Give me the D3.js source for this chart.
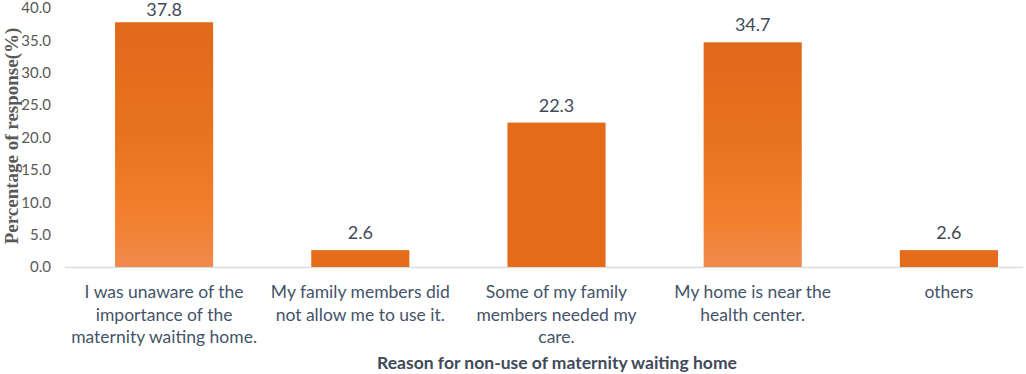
<!DOCTYPE html>
<html>
<head>
<meta charset="utf-8">
<script src="https://cdn.jsdelivr.net/npm/d3@7"></script>
<style>
  body { margin: 0; background: #fff; }
  svg { display: block; }
</style>
</head>
<body>
<main></main>
<script>
// data
const categories = [
  ["I was unaware of the", "importance of the", "maternity waiting home."],
  ["My family members did", "not allow me to use it."],
  ["Some of my family", "members needed my", "care."],
  ["My home is near the", "health center."],
  ["others"]
];
const values = [37.8, 2.6, 22.3, 34.7, 2.6];
const yTicks = [0, 5, 10, 15, 20, 25, 30, 35, 40];

const width = 1026;
const height = 374;

const svg = d3.select("main")
  .append("svg")
  .attr("width", width)
  .attr("height", height);

const defs = svg.append("defs");
const grad = defs.append("linearGradient")
  .attr("id", "barGrad")
  .attr("x1", 0).attr("y1", 0)
  .attr("x2", 0).attr("y2", 1);
grad.append("stop").attr("offset", "0%").attr("stop-color", "#e0691a");
grad.append("stop").attr("offset", "45%").attr("stop-color", "#e8731f");
grad.append("stop").attr("offset", "80%").attr("stop-color", "#f2802e");
grad.append("stop").attr("offset", "100%").attr("stop-color", "#f08a4e");

const xScale = d3.scaleBand()
  .domain(d3.range(values.length))
  .range([66, 1047])
  .paddingInner(0.5)
  .paddingOuter(0.25);

const yScale = d3.scaleLinear()
  .domain([0, 40])
  .range([267, 8]);

// baseline
svg.append("line")
  .attr("x1", 65).attr("x2", 1023)
  .attr("y1", yScale(0) + 0.5).attr("y2", yScale(0) + 0.5)
  .attr("stroke", "#d9dde3")
  .attr("stroke-width", 1.5);

// y tick labels
const yAxis = d3.axisLeft(yScale)
  .tickValues(yTicks)
  .tickFormat(d3.format(".1f"))
  .tickSize(0)
  .tickPadding(0);

svg.append("g")
  .attr("id", "y-axis")
  .attr("transform", "translate(51,0)")
  .call(yAxis)
  .call(g => g.select(".domain").remove())
  .selectAll("text")
  .attr("fill", "#595959")
  .style("font-family", "Lato, 'Open Sans', sans-serif")
  .style("font-size", "15px");

// bars
svg.selectAll("rect.bar")
  .data(values)
  .enter()
  .append("rect")
  .attr("class", "bar")
  .attr("x", (d, i) => xScale(i))
  .attr("y", d => yScale(d))
  .attr("width", xScale.bandwidth())
  .attr("height", d => yScale(0) - yScale(d))
  .attr("fill", d => d > 30 ? "url(#barGrad)" : "#e36b19");

// value labels
svg.selectAll("text.val")
  .data(values)
  .enter()
  .append("text")
  .attr("class", "val")
  .attr("x", (d, i) => xScale(i) + xScale.bandwidth() / 2)
  .attr("y", d => Math.max(yScale(d) - 11, 16))
  .attr("text-anchor", "middle")
  .attr("fill", "#3f4a5a")
  .style("font-family", "Lato, 'Open Sans', sans-serif")
  .style("font-size", "18px")
  .text(d => d.toFixed(1));

// category labels
const cat = svg.selectAll("text.cat")
  .data(categories)
  .enter()
  .append("text")
  .attr("class", "cat")
  .attr("text-anchor", "middle")
  .attr("fill", "#44546a")
  .style("font-family", "Lato, 'Open Sans', sans-serif")
  .style("font-size", "17.5px");

cat.selectAll("tspan")
  .data((d, i) => d.map(line => ({ line, i })))
  .enter()
  .append("tspan")
  .attr("x", d => xScale(d.i) + xScale.bandwidth() / 2)
  .attr("y", (d, j) => 298 + j * 22.5)
  .text(d => d.line);

// axis titles
svg.append("text")
  .attr("x", 557)
  .attr("y", 369)
  .attr("text-anchor", "middle")
  .attr("fill", "#3f4a5a")
  .style("font-family", "Lato, 'Open Sans', sans-serif")
  .style("font-size", "17.5px")
  .style("font-weight", "bold")
  .text("Reason for non-use of maternity waiting home");

svg.append("text")
  .attr("transform", "translate(18,136) rotate(-90)")
  .attr("text-anchor", "middle")
  .attr("fill", "#595959")
  .style("font-family", "'Liberation Serif', 'Times New Roman', serif")
  .style("font-size", "19px")
  .style("font-weight", "bold")
  .text("Percentage of response(%)");
</script>
</body>
</html>
